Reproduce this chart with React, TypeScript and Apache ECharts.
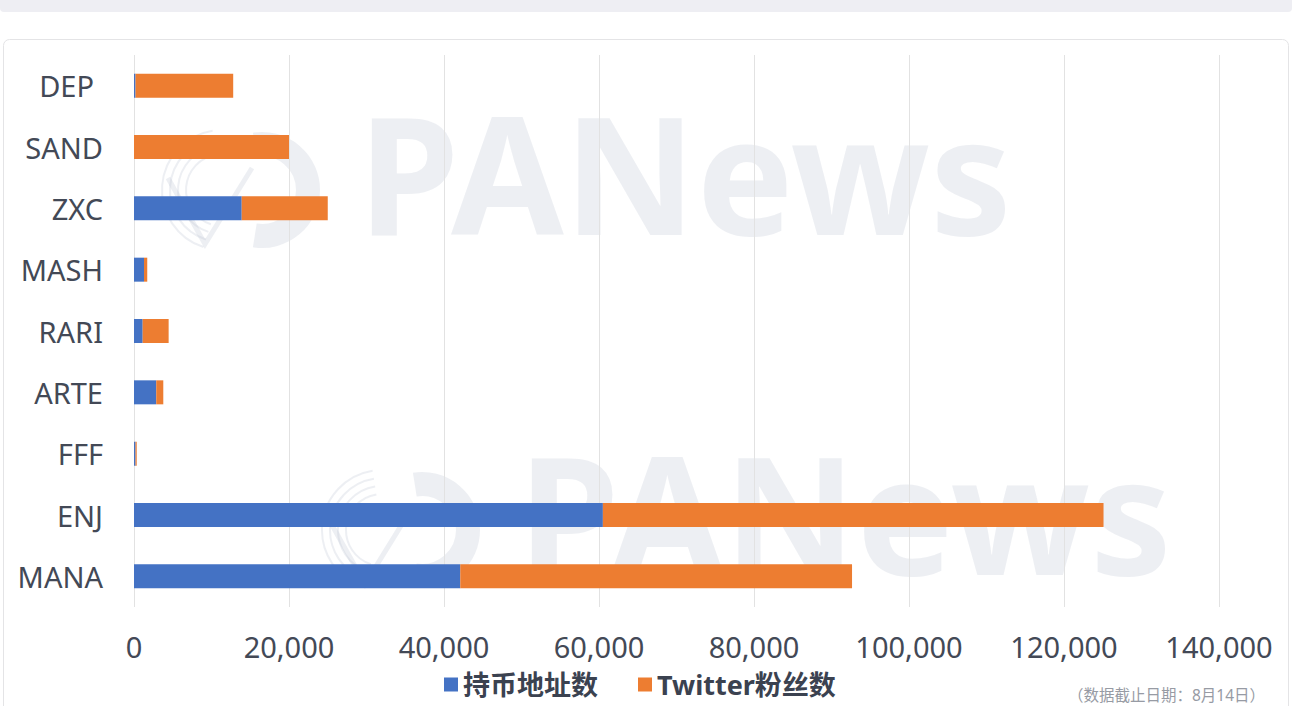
import React, { useEffect, useRef } from "react";
import * as echarts from "echarts";

const categories = ["MANA", "ENJ", "FFF", "ARTE", "RARI", "MASH", "ZXC", "SAND", "DEP"];
const holders = [42100, 60500, 200, 2870, 1120, 1290, 13900, 0, 200];
const twitter = [50550, 64600, 150, 910, 3350, 420, 11100, 20000, 12600];
const seriesNames = ["持币地址数", "Twitter粉丝数"];
const footnote = "（数据截止日期：8月14日）";

const FONT = "'Noto Sans', 'Noto Sans CJK SC', sans-serif";
const WM = "rgba(188,196,212,0.27)";

function watermark(dx: number, dy: number) {
  return {
    type: "group",
    x: dx,
    y: dy,
    z: 100,
    silent: true,
    children: [
      {
        type: "arc",
        shape: { cx: 262, cy: 190, r: 46, startAngle: -Math.PI * 0.55, endAngle: Math.PI * 0.55, clockwise: true },
        style: { stroke: WM, lineWidth: 24, fill: null },
      },
      ...[36, 44, 52, 60].map((r) => ({
        type: "arc",
        shape: { cx: 222, cy: 190, r, startAngle: Math.PI * 0.6, endAngle: Math.PI * 1.45, clockwise: true },
        style: { stroke: WM, lineWidth: 2, fill: null },
      })),
      {
        type: "polyline",
        shape: { points: [[168, 178], [205, 244], [252, 168]] },
        style: { stroke: WM, lineWidth: 5, fill: null },
      },
      {
        type: "text",
        x: 358,
        y: 253,
        style: {
          text: "PANews",
          font: `bold 163px ${FONT}`,
          fill: WM,
          textVerticalAlign: "bottom",
          textBaseline: "bottom",
        },
      },
    ],
  };
}

export default function App() {
  const ref = useRef<HTMLDivElement>(null);
  useEffect(() => {
    if (!ref.current) return;
    const chart = echarts.init(ref.current, undefined, { renderer: "svg" });
    chart.setOption({
      animation: false,
      backgroundColor: "#ffffff",
      textStyle: { fontFamily: FONT },
      grid: { left: 134, right: 73, top: 55, bottom: 99, containLabel: false },
      legend: {
        data: seriesNames,
        left: 444,
        top: 671,
        padding: 0,
        icon: "rect",
        itemWidth: 14,
        itemHeight: 14,
        itemGap: 40,
        textStyle: {
          fontSize: 27,
          lineHeight: 27,
          fontWeight: "bold",
          color: "#3b4250",
          fontFamily: FONT,
          padding: [0, 0, 0, 0],
        },
      },
      xAxis: {
        type: "value",
        min: 0,
        max: 140000,
        interval: 20000,
        axisLine: { show: false },
        axisTick: { show: false },
        splitLine: { show: true, lineStyle: { color: "#e2e2e2", width: 1 } },
        axisLabel: {
          fontSize: 29,
          color: "#434956",
          margin: 25,
          formatter: (v: number) => v.toLocaleString("en-US"),
        },
      },
      yAxis: {
        type: "category",
        data: categories,
        axisLine: { show: false },
        axisTick: { show: false },
        axisLabel: {
          fontSize: 29,
          color: "#434956",
          margin: 31,
          formatter: (v: string) => (v === "DEP" ? `{d|${v}}` : v),
          rich: { d: { fontSize: 29, color: "#434956", padding: [0, 9, 0, 0] } },
        },
      },
      series: [
        {
          name: seriesNames[0],
          type: "bar",
          stack: "total",
          data: holders,
          barWidth: 24,
          itemStyle: { color: "#4472C4" },
        },
        {
          name: seriesNames[1],
          type: "bar",
          stack: "total",
          data: twitter,
          barWidth: 24,
          itemStyle: { color: "#ED7D31" },
        },
      ],
      graphic: [
        {
          type: "rect",
          z: -10,
          shape: { x: 0, y: -10, width: 1292, height: 22, r: 4 },
          style: { fill: "#eeeef3" },
        },
        {
          type: "rect",
          z: -10,
          shape: { x: 3.5, y: 39.5, width: 1285, height: 700, r: 6 },
          style: { fill: null, stroke: "#e4e4e6", lineWidth: 1 },
        },
        watermark(0, 0),
        watermark(160, 340),
        {
          type: "text",
          right: 27,
          top: 686,
          style: { text: footnote, font: `15.5px ${FONT}`, fill: "#979ba4", lineHeight: 17 },
        },
      ],
    });
    return () => chart.dispose();
  }, []);
  return <div ref={ref} style={{ position: "fixed", left: 0, top: 0, width: 1292, height: 706 }} />;
}
